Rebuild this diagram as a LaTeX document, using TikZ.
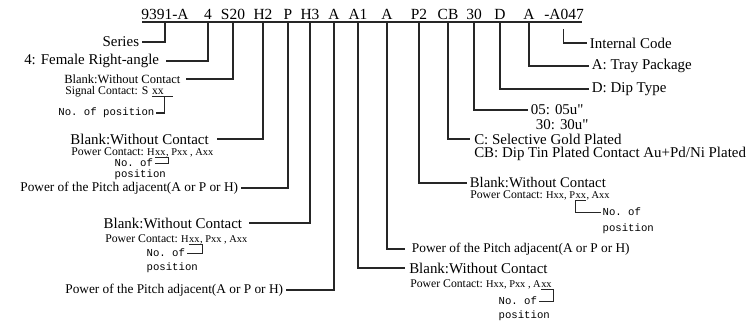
\documentclass[tikz,border=0pt]{standalone}
\usepackage{fontspec}
\setmainfont{Liberation Serif}
\setmonofont{Liberation Mono}
\newfontfamily\qtfont{Liberation Serif}
\usetikzlibrary{positioning}

\begin{document}
\begin{tikzpicture}[x=0.75pt, y=-0.75pt,
  code/.style={font=\fontsize{11.6}{13}\selectfont, inner sep=1pt},
  big/.style={font=\fontsize{11.2}{13}\selectfont, inner sep=2pt},
  mid/.style={font=\fontsize{9.4}{11}\selectfont, inner sep=2pt},
  ctc/.style={font=\fontsize{8.8}{10}\selectfont, inner xsep=0pt, inner ysep=1pt},
  sml/.style={font=\fontsize{7.8}{9}\selectfont, inner xsep=0pt, inner ysep=1pt},
  pitch/.style={font=\fontsize{10}{11}\selectfont, inner sep=2pt},
  mono/.style={font=\fontsize{8}{9}\selectfont\ttfamily, inner sep=1pt},
  lead/.style={draw=black!85, line width=0.8pt},
  tick/.style={draw=black!85, line width=0.6pt}]
\useasboundingbox (0,0) rectangle (755,326);

% part number
\node[code] (c9391) at (165,14) {9391-A};
\node[code] (c4) at (208,14) {4};
\node[code] (cS20) at (233,14) {S20};
\node[code] (cH2) at (263,14) {H2};
\node[code] (cP) at (288,14) {P};
\node[code] (cH3) at (310,14) {H3};
\node[code] (cA) at (334,14) {A};
\node[code] (cA1) at (358,14) {A1};
\node[code] (cA2) at (387,14) {A};
\node[code] (cP2) at (419,14) {P2};
\node[code] (cCB) at (448,14) {CB};
\node[code] (c30) at (474,14) {30};
\node[code] (cD) at (500,14) {D};
\node[code] (cA3) at (529,14) {A};
\node[code] (cA047) at (564,14) {-A047};
\coordinate (rl) at (142,22);
\coordinate (rr) at (582,22);
\draw[lead] (rl) -- (rr);

% left side
\node[big, anchor=east] (dSer) at (142,42) {Series};
\node[big, anchor=east, inner xsep=5pt] (d4) at (166,61) {4: Female Right-angle};
\node[mid, anchor=east, inner xsep=4pt] (dS20) at (186,79) {Blank:Without Contact};
\node[ctc, anchor=west] (sig) at (65,92) {Signal Contact: S};
\node[ctc, right=2.4pt of sig.base east, anchor=base west] (sxx) {xx};
\node[mono, anchor=east] (npS) at (156,113) {No. of position};

\node[big, anchor=east, inner xsep=6pt, inner ysep=1pt] (bH2) at (217,139) {Blank:Without Contact};
\node[ctc, anchor=west] (pH2) at (71,152) {Power Contact:};
\node[sml, right=2pt of pH2.base east, anchor=base west] (hH2) {H};
\node[sml, right=0pt of hH2.base east, anchor=base west] (xH2) {xx};
\node[sml, right=0pt of xH2.base east, anchor=base west] (rH2) {, Pxx , Axx};
\node[mono, anchor=west] (nH2) at (113,163) {No. of};
\node[mono, anchor=west] (qH2) at (113,175) {position};
\node[pitch, anchor=east, inner ysep=1pt] (ptP) at (241,188) {Power of the Pitch adjacent(A or P or H)};

\node[big, anchor=east, inner xsep=5pt, inner ysep=1pt] (bH3) at (249,223) {Blank:Without Contact};
\node[ctc, anchor=west] (pH3) at (105,239) {Power Contact:};
\node[sml, right=2pt of pH3.base east, anchor=base west] (hH3) {H};
\node[sml, right=0pt of hH3.base east, anchor=base west] (xH3) {xx};
\node[sml, right=0pt of xH3.base east, anchor=base west] (rH3) {, Pxx , Axx};
\node[mono, anchor=west] (nH3) at (145,253) {No. of};
\node[mono, anchor=west] (qH3) at (145,268) {position};
\node[pitch, anchor=east] (ptA) at (286,290) {Power of the Pitch adjacent(A or P or H)};

% right side
\node[big, anchor=west] (dInt) at (587,43) {Internal Code};
\node[big, anchor=west] (dTray) at (589,66) {A: Tray Package};
\node[big, anchor=west] (dDip) at (589,89) {D: Dip Type};
\node[big, anchor=west, inner ysep=0.5pt] (d05) at (528,110) {05: 05u{\qtfont"}};
\node[big, anchor=west, inner ysep=0.5pt] (d30) at (533,125) {30: 30u{\qtfont"}};
\node[big, anchor=west, inner xsep=3pt, inner ysep=0.5pt] (dC) at (470,139) {C: Selective Gold Plated};
\node[big, anchor=west, inner xsep=3pt, inner ysep=0.5pt] (dCB) at (470,154) {CB: Dip Tin Plated Contact Au+Pd/Ni Plated};

\node[pitch, anchor=west, font=\fontsize{11}{12}\selectfont, inner ysep=1pt] (bP2) at (467,183) {Blank:Without Contact};
\node[ctc, anchor=west] (pP2) at (470,195) {Power Contact:};
\node[sml, right=2pt of pP2.base east, anchor=base west] (hP2) {Hxx, P};
\node[sml, right=0pt of hP2.base east, anchor=base west] (xP2) {xx};
\node[sml, right=0pt of xP2.base east, anchor=base west] (rP2) {, Axx};
\node[mono, anchor=west] (nP2) at (601,212) {No. of};
\node[mono, anchor=west] (qP2) at (601,229) {position};
\node[pitch, anchor=west, inner xsep=5pt] (ptA2) at (405,249) {Power of the Pitch adjacent(A or P or H)};

\node[big, anchor=west, inner xsep=3pt, inner ysep=1pt] (bA1) at (405,268) {Blank:Without Contact};
\node[ctc, anchor=west] (pA1) at (410,284) {Power Contact:};
\node[sml, right=2pt of pA1.base east, anchor=base west] (hA1) {Hxx, Pxx , A};
\node[sml, right=0pt of hA1.base east, anchor=base west] (xA1) {xx};
\node[mono, anchor=west] (nA1) at (497,301) {No. of};
\node[mono, anchor=west] (qA1) at (497,316) {position};

% leads
\draw[lead] (c9391 |- rl) |- (dSer.east);
\draw[lead] (c4 |- rl) |- (d4.east);
\draw[lead] (cS20 |- rl) |- (dS20.east);
\draw[lead] (cH2 |- rl) |- (bH2.east);
\draw[lead] (cP |- rl) |- (ptP.east);
\draw[lead] (cH3 |- rl) |- (bH3.east);
\draw[lead] (cA |- rl) |- (ptA.east);
\draw[lead] (cA1 |- rl) |- (bA1.west);
\draw[lead] (cA2 |- rl) |- (ptA2.west);
\draw[lead] (cP2 |- rl) |- (bP2.west);
\draw[lead] (cCB |- rl) |- (dC.west);
\draw[lead] (c30 |- rl) |- (d05.west);
\draw[lead] (cD |- rl) |- (dDip.west);
\draw[lead] (cA3 |- rl) |- (dTray.west);
\draw[lead] ([xshift=-0.7pt, yshift=-6pt]cA047.south) |- (dInt.west);

% position brackets
\draw[lead] (sxx.south west) -- ([xshift=7pt]sxx.south east);
\draw[lead] (sxx.south east) |- (npS.east);
\draw[tick] (xH2.south west) -- ([xshift=2pt]xH2.south east) |- (nH2.east);
\draw[tick] (xH3.south west) -- ([xshift=2pt]xH3.south east) |- (nH3.east);
\draw[tick] (xP2.south east) -- (xP2.south west) |- (nP2.west);
\draw[tick] (xA1.south west) -- ([xshift=1pt]xA1.south east) |- (nA1.east);
\end{tikzpicture}
\end{document}
